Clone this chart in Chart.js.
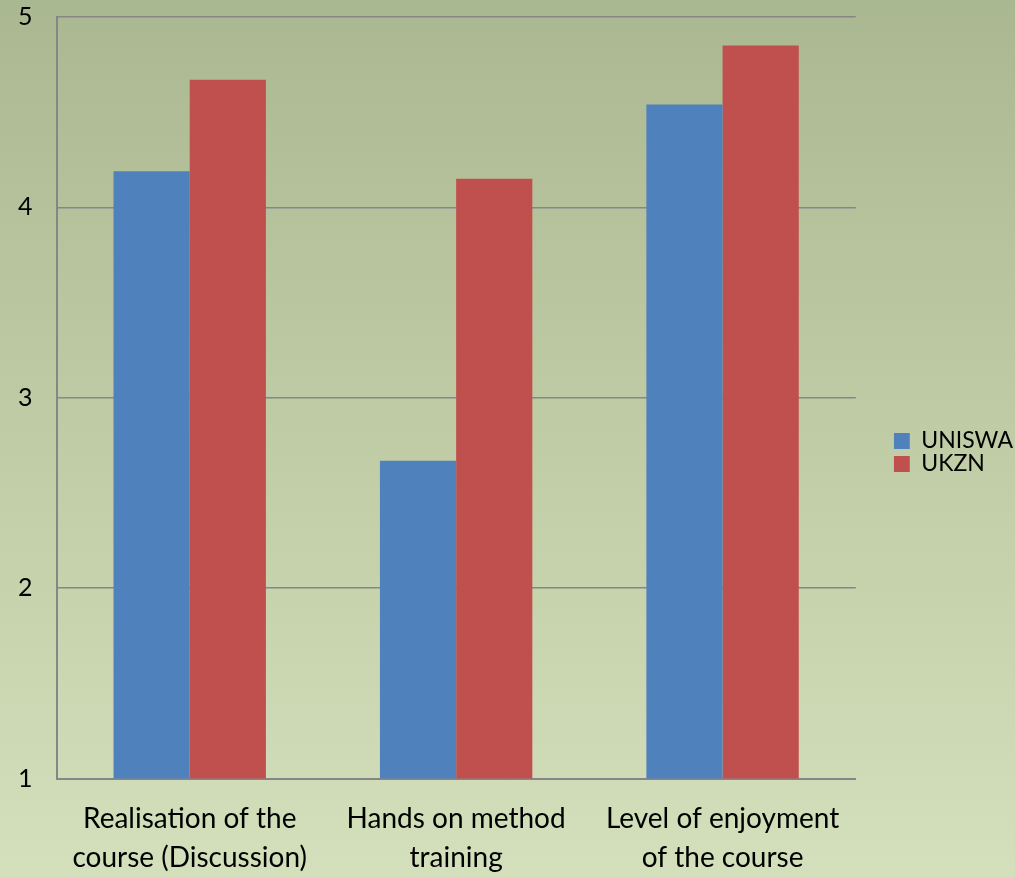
<!DOCTYPE html>
<html>
<head>
<meta charset="utf-8">
<script src="https://cdn.jsdelivr.net/npm/chart.js@4.4.0/dist/chart.umd.min.js"></script>
<style>
  html, body { margin: 0; padding: 0; }
  body {
    width: 1015px; height: 877px; overflow: hidden; position: relative;
    background: linear-gradient(to bottom, #aab892 0%, #c0cca5 50%, #d4e0bc 100%);
  }
  /* the canvas runs a little past the window, as the original picture is cropped */
  #wrap { position: absolute; left: -6px; top: -22px; width: 1029px; height: 913px; }
</style>
</head>
<body>
<div id="wrap"><canvas id="chart"></canvas></div>
<script>
// categories and series
const categories = [
    ['Realisation of the', 'course (Discussion)'],
    ['Hands on method', 'training'],
    ['Level of enjoyment', 'of the course']
];
const uniswaValues = [4.19, 2.67, 4.54];
const ukznValues = [4.67, 4.15, 4.85];
const yTicks = [1, 2, 3, 4, 5];

const FONT = 'Lato, "Open Sans", sans-serif';

new Chart(document.getElementById('chart'), {
    type: 'bar',
    data: {
        labels: categories,
        datasets: [
            { label: 'UNISWA', data: uniswaValues, backgroundColor: '#4f81bd', borderWidth: 0 },
            { label: 'UKZN', data: ukznValues, backgroundColor: '#c0504d', borderWidth: 0 }
        ]
    },
    options: {
        responsive: true,
        maintainAspectRatio: false,
        animation: false,
        layout: { padding: 0 },
        datasets: { bar: { categoryPercentage: 0.572, barPercentage: 1.0 } },
        plugins: {
            title: { display: false },
            tooltip: { enabled: false },
            legend: {
                position: 'right',
                title: { display: true, text: ' ', font: { size: 10 }, padding: { top: 12, bottom: 12 } },
                labels: {
                    color: '#000',
                    font: { family: FONT, size: 23, lineHeight: 0.96 },
                    boxWidth: 16,
                    boxHeight: 16,
                    padding: 0
                }
            }
        },
        scales: {
            x: {
                grid: { display: false },
                border: { color: '#868686', width: 2 },
                ticks: {
                    color: '#000',
                    font: { family: FONT, size: 28, lineHeight: 1.4 },
                    padding: 13,
                    maxRotation: 0
                }
            },
            y: {
                min: 1,
                max: 5,
                afterBuildTicks: s => { s.ticks = yTicks.map(v => ({ value: v })); },
                grid: { color: '#868686', lineWidth: 1.5, drawTicks: false },
                border: { color: '#868686', width: 2 },
                ticks: {
                    color: '#000',
                    font: { family: FONT, size: 25 },
                    padding: 24
                }
            },
            gap: {
                position: 'right',
                display: true,
                grid: { display: false },
                border: { display: false },
                ticks: { display: false },
                afterFit: s => { s.width = 38; }
            }
        }
    }
});
</script>
</body>
</html>
